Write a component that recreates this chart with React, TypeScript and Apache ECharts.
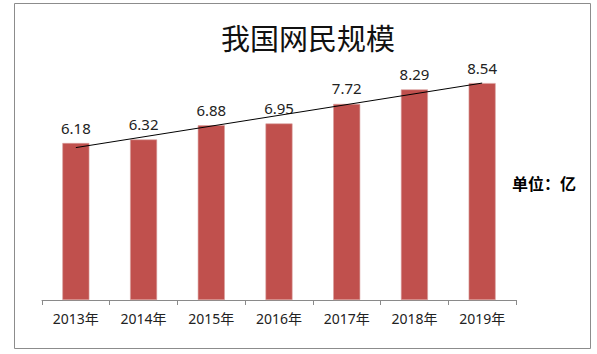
import React, { useEffect, useRef } from "react";
import * as echarts from "echarts";

const categories = ["2013年", "2014年", "2015年", "2016年", "2017年", "2018年", "2019年"];
const netizens = [6.18, 6.32, 6.88, 6.95, 7.72, 8.29, 8.54];
// trendline: start and end values only
const trendline = [6.0, "-", "-", "-", "-", "-", 8.54];

export default function App() {
  const ref = useRef<HTMLDivElement>(null);
  useEffect(() => {
    const chart = echarts.init(ref.current!, null, { renderer: "svg" });
    chart.setOption({
      animation: false,
      backgroundColor: "#ffffff",
      title: {
        text: "我国网民规模",
        left: 303,
        textAlign: "center",
        top: 17,
        textStyle: {
          fontFamily: "Noto Sans CJK SC",
          fontSize: 29,
          fontWeight: "normal",
          color: "#111111",
        },
      },
      graphic: [
        {
          type: "rect",
          shape: { x: 14.5, y: 3.5, width: 576, height: 345 },
          style: { fill: "none", stroke: "#8c8c8c", lineWidth: 1 },
          silent: true,
        },
        {
          type: "text",
          left: 512,
          top: 175,
          style: {
            text: "单位：亿",
            font: "bold 16px 'Noto Sans CJK SC'",
            fill: "#000000",
          },
        },
      ],
      grid: { left: 42, right: 81, top: 46, bottom: 54 },
      xAxis: {
        type: "category",
        data: categories,
        boundaryGap: true,
        axisLine: { lineStyle: { color: "#8a8a8a", width: 1 } },
        axisTick: { show: true, length: 5, lineStyle: { color: "#8a8a8a" } },
        axisLabel: {
          fontFamily: "Noto Sans, Noto Sans CJK SC",
          fontSize: 14,
          color: "#222222",
          margin: 11,
        },
      },
      yAxis: {
        type: "value",
        min: 0,
        max: 10,
        show: false,
        splitLine: { show: false },
      },
      series: [
        {
          type: "bar",
          data: netizens,
          barWidth: 27,
          itemStyle: { color: "#C0504D", borderColor: "#d9a09e", borderWidth: 0.6 },
          label: {
            show: true,
            position: "top",
            distance: 8,
            fontFamily: "Noto Sans",
            fontSize: 15,
            color: "#222222",
            formatter: (p: any) => p.value.toFixed(2),
          },
        },
        {
          type: "line",
          data: trendline,
          connectNulls: true,
          symbol: "none",
          lineStyle: { color: "#000000", width: 1 },
          z: 5,
        },
      ],
    });
    return () => chart.dispose();
  }, []);
  return (
    <div
      ref={ref}
      style={{ position: "fixed", left: 0, top: 0, width: 597, height: 354 }}
    />
  );
}
